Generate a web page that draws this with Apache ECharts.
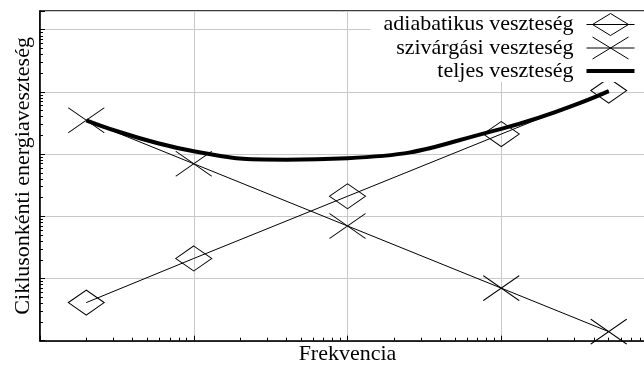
<!DOCTYPE html>
<html>
<head>
<meta charset="utf-8">
<script src="https://cdn.jsdelivr.net/npm/echarts@6/dist/echarts.min.js"></script>
<style>
  html, body { margin: 0; padding: 0; background: #fff; }
  #chart { width: 644px; height: 366px; }
</style>
</head>
<body>
<div id="chart"></div>
<script>
// Frequencies of the measured points
const freq = [2, 10, 100, 1000, 5000];
// Adiabatic loss per cycle
const adiabatic = [4.1, 21, 210, 2100, 10500];
// Leakage loss per cycle
const leakage = [3500, 700, 70, 7, 1.4];
// Total loss curve (smoothed through these samples)
const totalFreq = [2, 10, 40, 100, 1000, 5000];
const total = [3500, 1110, 815, 860, 2550, 10300];

// Series names (legend texts) and axis titles
const seriesNames = ['adiabatikus veszteség', 'szivárgási veszteség', 'teljes veszteség'];
const xTitle = 'Frekvencia';
const yTitle = 'Ciklusonkénti energiaveszteség';

// Axis extents
const xRange = [1, 10000];
const yRange = [1, 200000];

// Log-axis minor tick positions (2..9 inside each decade)
function minorTicks(lo, hi) {
  const out = [];
  for (let d = lo; d < hi; d *= 10) {
    for (let k = 2; k <= 9; k++) out.push(d * k);
  }
  return out;
}
const xMinor = minorTicks(1, 10000);
const yMinor = minorTicks(1, 100000);

const FONT = 'Liberation Serif';
const BLACK = '#000';

const pairs = (xs, ys) => xs.map((x, i) => [x, ys[i]]);

const crossPath = 'path://M0,0L36,25M0,25L36,0';

const chart = echarts.init(document.getElementById('chart'), null, { renderer: 'canvas' });

chart.setOption({
  animation: false,
  backgroundColor: '#fff',
  grid: {
    left: 40, top: 11, width: 615, height: 329.7,
    outerBoundsMode: 'none', containLabel: false,
    show: true, borderColor: BLACK, borderWidth: 1.5, backgroundColor: 'transparent'
  },
  legend: {
    orient: 'vertical',
    right: 0,
    top: 12,
    align: 'right',
    padding: [1, 9, 0, 13],
    backgroundColor: '#fff',
    itemWidth: 48,
    itemHeight: 22,
    itemGap: 0.5,
    symbolKeepAspect: false,
    textStyle: { fontFamily: FONT, fontSize: 22, color: BLACK, lineHeight: 22, padding: [0, 8, 0, 0] },
    data: [
      { name: seriesNames[0], icon: 'path://M0,11H48M6,11L24,0L42,11L24,22Z',
        itemStyle: { color: 'transparent', borderColor: BLACK, borderWidth: 1 } },
      { name: seriesNames[1], icon: 'path://M0,11H48M6,0L42,22M6,22L42,0',
        itemStyle: { color: 'transparent', borderColor: BLACK, borderWidth: 1 } },
      { name: seriesNames[2], icon: 'path://M0,0M0,9H48V13H0Z M48,22',
        itemStyle: { color: BLACK, borderWidth: 0 } }
    ]
  },
  xAxis: [
    {
      type: 'log', logBase: 10, min: xRange[0], max: xRange[1],
      name: xTitle, nameLocation: 'middle', nameGap: 3,
      nameTextStyle: { fontFamily: FONT, fontSize: 22, color: BLACK, verticalAlign: 'top' },
      axisLine: { show: true, lineStyle: { color: BLACK, width: 1.5 } },
      axisTick: { show: true, inside: true, length: 5, lineStyle: { color: BLACK, width: 1 } },
      axisLabel: { show: false },
      splitLine: { show: true, lineStyle: { color: '#c8c8c8', width: 1 } },
      minorTick: { show: false }
    },
    {
      type: 'log', logBase: 10, min: xRange[0], max: xRange[1], position: 'bottom',
      axisLine: { show: false },
      axisTick: { show: true, inside: true, length: 3, customValues: xMinor, lineStyle: { color: BLACK, width: 1 } },
      axisLabel: { show: false },
      splitLine: { show: false }
    }
  ],
  yAxis: [
    {
      type: 'log', logBase: 10, min: yRange[0], max: yRange[1],
      name: yTitle, nameLocation: 'middle', nameGap: 6,
      nameTextStyle: { fontFamily: FONT, fontSize: 22, color: BLACK },
      axisLine: { show: true, lineStyle: { color: BLACK, width: 1.5 } },
      axisTick: { show: true, inside: true, length: 5, lineStyle: { color: BLACK, width: 1 } },
      axisLabel: { show: false },
      splitLine: { show: true, lineStyle: { color: '#c8c8c8', width: 1 } }
    },
    {
      type: 'log', logBase: 10, min: yRange[0], max: yRange[1], position: 'left',
      axisLine: { show: false },
      axisTick: { show: true, inside: true, length: 3, customValues: yMinor, lineStyle: { color: BLACK, width: 1 } },
      axisLabel: { show: false },
      splitLine: { show: false }
    }
  ],
  series: [
    {
      name: seriesNames[0], type: 'line', data: pairs(freq, adiabatic),
      symbol: 'diamond', symbolSize: [36, 25], showSymbol: true,
      itemStyle: { color: 'transparent', borderColor: BLACK, borderWidth: 1 },
      lineStyle: { color: BLACK, width: 1 },
      emphasis: { disabled: true }, z: 3
    },
    {
      name: seriesNames[1], type: 'line', data: pairs(freq, leakage),
      symbol: crossPath, symbolSize: [36, 25], showSymbol: true, symbolKeepAspect: false,
      itemStyle: { color: 'transparent', borderColor: BLACK, borderWidth: 1 },
      lineStyle: { color: BLACK, width: 1 },
      emphasis: { disabled: true }, z: 3
    },
    {
      name: seriesNames[2], type: 'line', data: pairs(totalFreq, total),
      smooth: 0.5, showSymbol: false, symbol: 'none',
      itemStyle: { color: BLACK },
      lineStyle: { color: BLACK, width: 4 },
      emphasis: { disabled: true }, z: 4
    }
  ]
});
</script>
</body>
</html>
